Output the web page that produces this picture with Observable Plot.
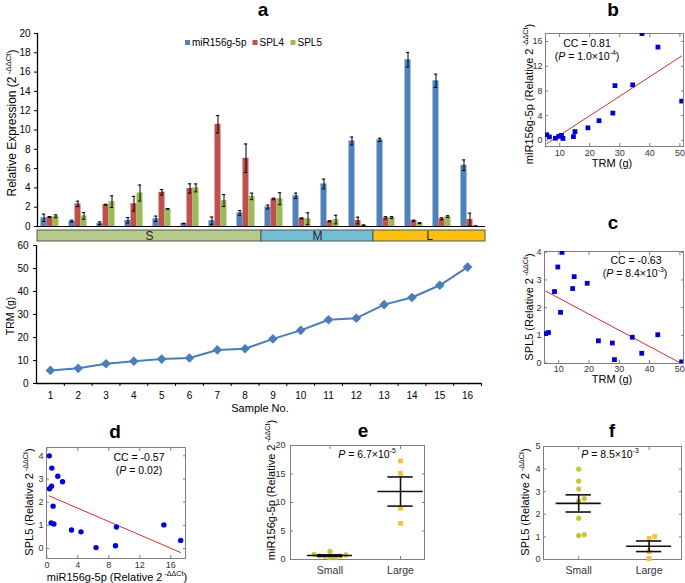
<!DOCTYPE html>
<html><head><meta charset="utf-8">
<script src="https://cdn.jsdelivr.net/npm/d3@7"></script>
<script src="https://cdn.jsdelivr.net/npm/@observablehq/plot@0.6"></script>
<style>
html,body{margin:0;padding:0;background:#fff;}
#fig{position:relative;width:685px;height:583px;overflow:hidden;background:#fff;}
#fig svg{position:absolute;left:0;top:0;}
</style></head><body><div id="fig"></div>
<script>
// ---------------- data ----------------
const samples = [1,2,3,4,5,6,7,8,9,10,11,12,13,14,15,16];
const trm     = [5.7, 6.6, 8.6, 9.7, 10.6, 11.1, 14.6, 15.1, 19.4, 23.1, 27.7, 28.4, 34.3, 37.4, 42.7, 50.6];
const mir     = [0.9, 0.55, 0.34, 0.64, 0.8, 0.31, 0.6, 1.41, 2.02, 3.18, 4.41, 8.86, 8.98, 17.28, 15.1, 6.35];
const mirErr  = [0.38, 0.1, 0.14, 0.28, 0.28, 0.03, 0.38, 0.24, 0.2, 0.28, 0.5, 0.41, 0.17, 0.76, 0.69, 0.55];
const spl4    = [0.98, 2.34, 2.26, 2.36, 3.55, 3.94, 10.59, 7.07, 2.86, 0.84, 0.55, 0.62, 0.9, 0.6, 0.8, 0.72];
const spl4Err = [0.05, 0.28, 0.04, 0.76, 0.28, 0.48, 0.9, 1.48, 0.08, 0.05, 0.05, 0.35, 0.12, 0.06, 0.1, 0.66];
const spl5    = [1.06, 1.1, 2.58, 3.47, 1.83, 4.0, 2.69, 3.12, 2.88, 0.8, 0.72, 0.12, 0.93, 0.35, 1.02, 0.04];
const spl5Err = [0.15, 0.35, 0.6, 0.83, 0.04, 0.41, 0.62, 0.34, 0.62, 0.62, 0.45, 0.05, 0.1, 0.05, 0.1, 0.03];
const seriesNames  = ["miR156g-5p", "SPL4", "SPL5"];
const seriesColors = ["#4f81bd", "#c0504d", "#9bbb59"];
const sizeGroups   = ["S", "M", "L"];
const groupFirst   = [1, 9, 13];
const groupLast    = [8, 12, 16];
const groupColors  = ["#b6ca8c", "#72bed3", "#fec00f"];
const catNames     = ["Small", "Large"];
const catColors    = ["#c6c53a", "#f3c13a"];
const yTicksExpr = [0,2,4,6,8,10,12,14,16,18,20];
const yTicksTrm  = [0,10,20,30,40,50,60];
const xTicksTrm  = [10,20,30,40,50];
const yTicksB    = [0,4,8,12,16];
const yTicksC    = [0,1,2,3,4];
const xTicksD    = [0,4,8,12,16];
const yTicksE    = [0,5,10,15,20];
const yTicksF    = [0,1,2,3,4,5];
const statsText = {b: ["0.81", "1.0", "-4"], c: ["-0.63", "8.4", "-3"], d: ["-0.57", "0.02"], e: ["6.7", "-5"], f: ["8.5", "-3"]};

// ---------------- helpers ----------------
const W = 685, H = 583;
const font = "Liberation Sans, Arial, Helvetica, sans-serif";
const fig = document.getElementById("fig");
const base = (o) => Object.assign({width: W, height: H,
  style: {background: "transparent", fontFamily: font, fontSize: "10px", color: "#000"}}, o);
const add = (p) => fig.appendChild(p);
const plain = (d) => String(d);

function boxAxes(xt, yt, {xPad = 3, yPad = 3, xFmt = plain, xSize = 9, ySize = 9} = {}) {
  const g = "#7f7f7f";
  return [
    Plot.frame({stroke: g}),
    Plot.axisY({ticks: yt, anchor: "left", tickSize: -3, tickFormat: () => "", label: null, stroke: g}),
    Plot.axisY({ticks: yt, anchor: "right", tickSize: -3, tickFormat: () => "", label: null, stroke: g}),
    Plot.axisX({ticks: xt, anchor: "bottom", tickSize: -3, tickFormat: () => "", label: null, stroke: g}),
    Plot.axisX({ticks: xt, anchor: "top", tickSize: -3, tickFormat: () => "", label: null, stroke: g}),
    Plot.axisY({ticks: yt, anchor: "left", tickSize: 0, tickPadding: yPad, label: null, fontSize: ySize, fill: "#333", tickFormat: plain}),
    Plot.axisX({ticks: xt, anchor: "bottom", tickSize: 0, tickPadding: xPad, label: null, fontSize: xSize, fill: "#333", tickFormat: xFmt})
  ];
}

// ---------------- panel a: bars ----------------
const seriesValues = [mir, spl4, spl5];
const seriesErrs = [mirErr, spl4Err, spl5Err];
const seriesDx = [-7.5, -1.5, 4.5];
const barMarks = seriesNames.flatMap((name, k) => {
  const rows = samples.map((s, i) => ({sample: s, value: seriesValues[k][i], err: seriesErrs[k][i]}));
  return [
    Plot.barY(rows, {x: "sample", y: "value", fill: seriesColors[k], insetLeft: 11, insetRight: 11, dx: seriesDx[k]}),
    Plot.ruleX(rows, {x: "sample", y1: d => Math.max(0, d.value - d.err), y2: d => d.value + d.err, dx: seriesDx[k], stroke: "#000", strokeWidth: 1}),
    Plot.tickY(rows, {x: "sample", y: d => d.value + d.err, insetLeft: 12.3, insetRight: 12.3, dx: seriesDx[k], stroke: "#000", strokeWidth: 1}),
    Plot.tickY(rows, {x: "sample", y: d => Math.max(0, d.value - d.err), insetLeft: 12.3, insetRight: 12.3, dx: seriesDx[k], stroke: "#000", strokeWidth: 1})
  ];
});
add(Plot.plot(base({
  marginLeft: 37, marginRight: 200, marginTop: 33, marginBottom: 357,
  x: {type: "band", domain: samples, padding: 0, axis: null},
  y: {domain: [0, 20]},
  marks: [
    Plot.axisY({ticks: yTicksExpr, tickSize: 3, tickPadding: 4, label: null, fontSize: 10}),
    ...barMarks,
    Plot.frame({anchor: "left", stroke: "#000", strokeWidth: 1.3}),
    Plot.ruleY([0], {stroke: "#000"})
  ]
})));

// ---------------- panel a: S/M/L band ----------------
const groupRows = sizeGroups.map((g, i) => ({name: g, x1: groupFirst[i] - 0.5, x2: groupLast[i] + 0.5, color: groupColors[i]}));
add(Plot.plot(base({
  marginLeft: 37, marginRight: 200, marginTop: 230, marginBottom: 342,
  x: {domain: [0.5, 16.5], axis: null},
  marks: [
    Plot.rect(groupRows, {x1: "x1", x2: "x2", fill: "color", stroke: "#555", strokeWidth: 1}),
    Plot.text(groupRows, {x: d => (d.x1 + d.x2) / 2, text: "name", fontSize: 12, frameAnchor: "middle", fill: "#222"})
  ]
})));

// ---------------- panel a: TRM line ----------------
const trmRows = samples.map((s, i) => ({sample: s, trm: trm[i]}));
const sampleBounds = samples.map(s => s + 0.5);
add(Plot.plot(base({
  marginLeft: 36, marginRight: 204, marginTop: 245, marginBottom: 200,
  x: {domain: [0.5, 16.5]},
  y: {domain: [0, 60]},
  marks: [
    Plot.axisY({ticks: yTicksTrm, tickSize: 3, tickPadding: 5, label: null, fontSize: 10}),
    Plot.axisX({ticks: samples, tickSize: 0, tickPadding: 8, label: null, fontSize: 10}),
    Plot.axisX({ticks: sampleBounds, tickSize: 3, tickFormat: () => "", label: null}),
    Plot.ruleX([0.5], {stroke: "#000", strokeWidth: 1.3}),
    Plot.ruleY([0], {stroke: "#000", strokeWidth: 1.3}),
    Plot.line(trmRows, {x: "sample", y: "trm", stroke: "#4a7ebb", strokeWidth: 2}),
    Plot.dot(trmRows, {x: "sample", y: "trm", symbol: "diamond2", r: 3.4, fill: "#4a7ebb", stroke: "#4a7ebb"})
  ]
})));

// ---------------- panels b, c, d ----------------
const pairs = samples.map((s, i) => ({trm: trm[i], mir: mir[i], spl5: spl5[i]}));
add(Plot.plot(base({
  marginLeft: 545, marginRight: 2, marginTop: 33, marginBottom: 437,
  x: {domain: [5.3, 51.2]}, y: {domain: [-1, 17.3]},
  marks: [
    ...boxAxes(xTicksTrm, yTicksB, {xPad: 3, yPad: 3}),
    Plot.linearRegressionY(pairs, {x: "trm", y: "mir", stroke: "#d03030", strokeWidth: 1, ci: 0}),
    Plot.dot(pairs, {x: "trm", y: "mir", symbol: "square", r: 2.7, fill: "#0000cc", clip: true})
  ]
})));
add(Plot.plot(base({
  marginLeft: 544, marginRight: 2, marginTop: 251, marginBottom: 220,
  x: {domain: [5.3, 51.2]}, y: {domain: [-0.02, 4.03]},
  marks: [
    ...boxAxes(xTicksTrm, yTicksC, {xPad: 2, yPad: 3}),
    Plot.linearRegressionY(pairs, {x: "trm", y: "spl5", stroke: "#d03030", strokeWidth: 1, ci: 0}),
    Plot.dot(pairs, {x: "trm", y: "spl5", symbol: "square", r: 2.7, fill: "#0000cc", clip: true})
  ]
})));
add(Plot.plot(base({
  marginLeft: 46, marginRight: 500, marginTop: 447, marginBottom: 25,
  x: {domain: [-0.05, 17.9]}, y: {domain: [-0.43, 4.36]},
  marks: [
    ...boxAxes(xTicksD, yTicksC, {xPad: 3, yPad: 3}),
    Plot.linearRegressionY(pairs, {x: "mir", y: "spl5", stroke: "#d03030", strokeWidth: 1, ci: 0}),
    Plot.dot(pairs, {x: "mir", y: "spl5", r: 2.7, fill: "#0000dd"})
  ]
})));

// ---------------- panels e, f ----------------
const inGroup = (g) => samples.map((s, i) => i).filter(i => samples[i] >= groupFirst[g] && samples[i] <= groupLast[g]);
const catIdx = [inGroup(0), inGroup(2)];
function dodge(vals, thr, step) {
  const order = vals.map((v, i) => i).sort((a, b) => vals[a] - vals[b]);
  const placed = [], offs = [];
  for (const i of order) {
    for (const c of [0, 1, -1, 2, -2, 3, -3, 4, -4]) {
      const o = c * step;
      if (!placed.some(p => Math.abs(p.v - vals[i]) < thr && Math.abs(p.o - o) < step * 0.9)) {
        offs[i] = o; placed.push({v: vals[i], o}); break;
      }
    }
  }
  return offs;
}
function catData(values, thr, step) {
  const pts = [], stats = [];
  catNames.forEach((c, ci) => {
    const vals = catIdx[ci].map(i => values[i]);
    const offs = dodge(vals, thr, step);
    vals.forEach((v, j) => pts.push({pos: ci + 1, value: v, off: offs[j], cat: c}));
    const m = d3.mean(vals), se = d3.deviation(vals) / Math.sqrt(vals.length);
    stats.push({pos: ci + 1, mean: m, lo: m - se, hi: m + se});
  });
  return {pts, stats};
}
function catMarks(values, thr, step) {
  const {pts, stats} = catData(values, thr, step);
  return [
    Plot.dot(pts.filter(d => d.pos === 1), {x: d => d.pos + d.off, y: "value", r: 2.6, fill: catColors[0]}),
    Plot.dot(pts.filter(d => d.pos === 2), {x: d => d.pos + d.off, y: "value", symbol: "square", r: 2.7, fill: catColors[1]}),
    Plot.ruleX(stats, {x: "pos", y1: "lo", y2: "hi", stroke: "#111", strokeWidth: 1.6}),
    Plot.ruleY(stats, {y: "mean", x1: d => d.pos - 0.32, x2: d => d.pos + 0.32, stroke: "#111", strokeWidth: 1.6}),
    Plot.ruleY(stats, {y: "lo", x1: d => d.pos - 0.18, x2: d => d.pos + 0.18, stroke: "#111", strokeWidth: 1.6}),
    Plot.ruleY(stats, {y: "hi", x1: d => d.pos - 0.18, x2: d => d.pos + 0.18, stroke: "#111", strokeWidth: 1.6})
  ];
}
const catFmt = (v) => catNames[v - 1];
add(Plot.plot(base({
  marginLeft: 290, marginRight: 261, marginTop: 445, marginBottom: 24,
  x: {domain: [0.44, 2.34]}, y: {domain: [0, 20]},
  marks: [
    ...boxAxes([1, 2], yTicksE, {xPad: 7, yPad: 5, xFmt: catFmt, xSize: 10.5}),
    ...catMarks(mir, 0.7, 0.075)
  ]
})));
add(Plot.plot(base({
  marginLeft: 543, marginRight: 4, marginTop: 446, marginBottom: 24,
  x: {domain: [0.5, 2.46]}, y: {domain: [0, 5]},
  marks: [
    ...boxAxes([1, 2], yTicksF, {xPad: 7, yPad: 3, xFmt: catFmt, xSize: 10.5}),
    ...catMarks(spl5, 0.18, 0.08)
  ]
})));

// ---------------- overlay texts ----------------
const ov = d3.select(fig).append("svg").attr("width", W).attr("height", H).attr("font-family", font);
function txt(cx, cy, parts, {size = 11, rotate = 0, weight = "normal", fill = "#000", anchor = "middle", baseline = false} = {}) {
  let x = cx, y = cy;
  if (!baseline) { if (rotate) x = cx + 0.36 * size; else y = cy + 0.36 * size; }
  const t = ov.append("text").attr("transform", `translate(${x},${y}) rotate(${rotate})`)
    .attr("text-anchor", anchor).attr("font-size", size).attr("font-weight", weight).attr("fill", fill);
  let cur = 0;
  for (const p of parts) {
    const s = typeof p === "string" ? {t: p} : p;
    const ts = t.append("tspan").text(s.t);
    const target = s.sup ? -size * 0.42 : 0;
    if (target !== cur) ts.attr("dy", target - cur);
    cur = target;
    if (s.sup) ts.attr("font-size", size * 0.65);
    if (s.it) ts.attr("font-style", "italic");
  }
  return t;
}
const unit = ["(Relative 2", {t: " -ΔΔCt", sup: true}, ")"];
// panel letters
[["a", 263, 16], ["b", 613, 16], ["c", 613, 229], ["d", 115, 438], ["e", 363, 437], ["f", 612, 437]]
  .forEach(([l, x, y]) => txt(x, y, [l], {size: 19, weight: "bold", baseline: true}));
// legend
const legX = [185, 252.5, 290.5];
seriesNames.forEach((n, k) => {
  ov.append("rect").attr("x", legX[k]).attr("y", 40).attr("width", 5).attr("height", 5).attr("fill", seriesColors[k]);
  txt(legX[k] + 7, 45.5, [n], {size: 10, anchor: "start", baseline: true});
});
// axis labels
txt(12, 123, ["Relative Expression (2", unit[1], unit[2]], {size: 12, rotate: -90});
txt(10, 316, ["TRM (g)"], {size: 10.5, rotate: -90});
txt(260, 408, ["Sample No."], {size: 11});
txt(529, 94, ["miR156g-5p ", ...unit], {size: 11, rotate: -90});
txt(612, 163.5, ["TRM (g)"], {size: 11});
txt(529, 307, ["SPL5 ", ...unit], {size: 11, rotate: -90});
txt(612, 379.5, ["TRM (g)"], {size: 11});
txt(29, 502, ["SPL5 ", ...unit], {size: 11, rotate: -90});
txt(117, 577, ["miR156g-5p ", ...unit], {size: 11});
txt(271, 490, ["miR156g-5p ", ...unit], {size: 11, rotate: -90});
txt(525, 502, ["SPL5 ", ...unit], {size: 11, rotate: -90});
// statistics
txt(587, 43, ["CC = " + statsText.b[0]], {size: 10.5});
txt(587, 56, ["(", {t: "P", it: true}, " = " + statsText.b[1] + "×10", {t: statsText.b[2], sup: true}, ")"], {size: 10.5});
txt(636, 260, ["CC = " + statsText.c[0]], {size: 10.5});
txt(635, 273, ["(", {t: "P", it: true}, " = " + statsText.c[1] + "×10", {t: statsText.c[2], sup: true}, ")"], {size: 10.5});
txt(139, 457, ["CC = " + statsText.d[0]], {size: 10.5});
txt(139, 470, ["(", {t: "P", it: true}, " = " + statsText.d[1] + ")"], {size: 10.5});
txt(367, 454, [{t: "P", it: true}, " = " + statsText.e[0] + "×10", {t: statsText.e[1], sup: true}], {size: 10.5});
txt(610, 454, [{t: "P", it: true}, " = " + statsText.f[0] + "×10", {t: statsText.f[1], sup: true}], {size: 10.5});
</script></body></html>
